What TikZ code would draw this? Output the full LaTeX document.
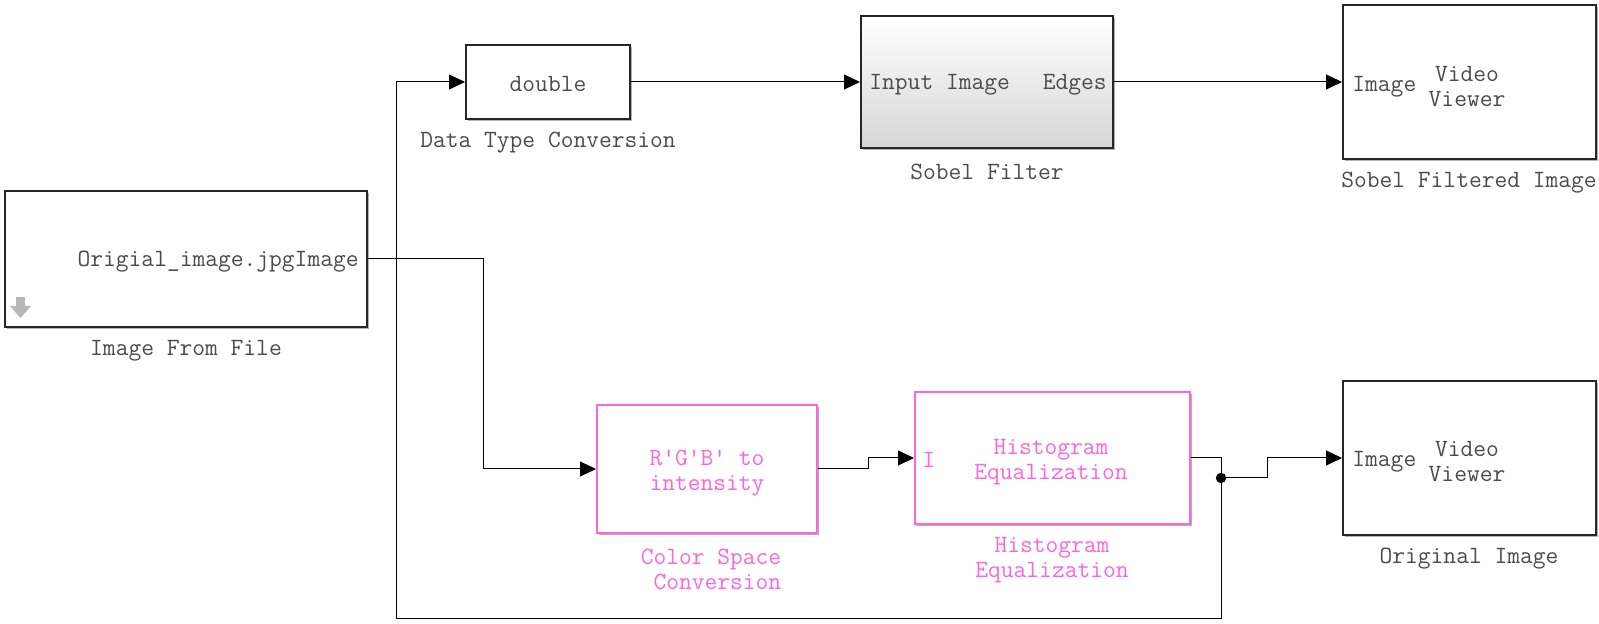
\documentclass[tikz,border=0pt]{standalone}
\usetikzlibrary{arrows.meta,shadows}
\definecolor{slpink}{RGB}{255,100,220}
\definecolor{sltext}{RGB}{75,75,75}
\tikzset{
  blk/.style={draw=black!85, line width=1pt, fill=white, inner sep=0pt,
    drop shadow={shadow xshift=1.2pt, shadow yshift=-1.2pt, opacity=.3, fill=black}},
  pinkblk/.style={blk, draw=slpink},
  txt/.style={font=\ttfamily\fontsize{12.4}{12.5}\selectfont, text=sltext, inner sep=0pt, align=center, yshift=-1.2pt},
  pinktxt/.style={txt, text=slpink},
  wire/.style={black, line width=0.5pt},
  >={Triangle[length=8pt,width=7.5pt]}
}
\begin{document}
\begin{tikzpicture}[x=0.5pt,y=-0.5pt]
  \useasboundingbox (0,0) rectangle (1599,624);
  % blocks
  \node [blk, minimum width=181pt, minimum height=68pt] (img) at (186,259) {};
  \node [blk, minimum width=82pt, minimum height=37pt] (dbl) at (548,82) {};
  \node [blk, minimum width=126pt, minimum height=66pt, top color=white, middle color=white, bottom color=black!16] (sob) at (987,82) {};
  \node [blk, minimum width=126.5pt, minimum height=77pt] (vv1) at (1469.5,82) {};
  \node [pinkblk, minimum width=110pt, minimum height=64pt] (csc) at (707,469) {};
  \node [pinkblk, minimum width=137.5pt, minimum height=66pt] (heq) at (1052.5,458) {};
  \node [blk, minimum width=126.5pt, minimum height=77pt] (vv2) at (1469.5,458) {};
  % texts in the blocks
  \node [txt, anchor=east] (imgport) at (359,259) {Origial\_image.jpgImage};
  \fill [black!28] (16,297) rectangle (25,306);
  \fill [black!28] (10,306) -- (31,306) -- (20.5,318) -- cycle;
  \node [txt] (dbltxt) at (548,82) {double};
  \node [txt, anchor=west] (sobin) at (869,82) {Input Image};
  \node [txt, anchor=east] (sobout) at (1107,82) {Edges};
  \node [txt, anchor=west] (vv1in) at (1352,84) {Image};
  \node [txt] (vv1txt) at (1467,84) {Video\\Viewer};
  \node [pinktxt] (csctxt) at (707,471) {R\textquotesingle G\textquotesingle B\textquotesingle{} to\\intensity};
  \node [pinktxt, anchor=west] (heqin) at (922,458) {I};
  \node [pinktxt] (heqtxt) at (1051,460) {Histogram\\Equalization};
  \node [txt, anchor=west] (vv2in) at (1352,459) {Image};
  \node [txt] (vv2txt) at (1467,459) {Video\\Viewer};
  % block names
  \node [txt] (imgname) at (186,348) {Image From File};
  \node [txt] (dblname) at (548,140) {Data Type Conversion};
  \node [txt] (sobname) at (987,170) {Sobel Filter};
  \node [txt] (vv1name) at (1469,180) {Sobel Filtered Image};
  \node [pinktxt] (cscname) at (711,567) {Color Space\\\ Conversion};
  \node [pinktxt] (heqname) at (1052,558) {Histogram\\Equalization};
  \node [txt] (vv2name) at (1469,556) {Original Image};
  % lines
  \coordinate (split) at (483,259);
  \coordinate (step1) at (868,469);
  \coordinate (dot) at (1221,478);
  \coordinate (step2) at (1267,478);
  \coordinate (back) at (396,618);
  \draw [wire, ->] (dbl.east) -- (sob.west);
  \draw [wire, ->] (sob.east) -- (vv1.west);
  \draw [wire, ->] (img.east) -- (split) |- (csc.west);
  \draw [wire, ->] (csc.east) -- (step1) |- (heq.west);
  \draw [wire] (heq.east) -| (dot);
  \draw [wire, ->] (dot) -- (step2) |- (vv2.west);
  \draw [wire, ->] (dot) |- (back) |- (dbl.west);
  \fill (dot) circle (2.6pt);
\end{tikzpicture}
\end{document}
